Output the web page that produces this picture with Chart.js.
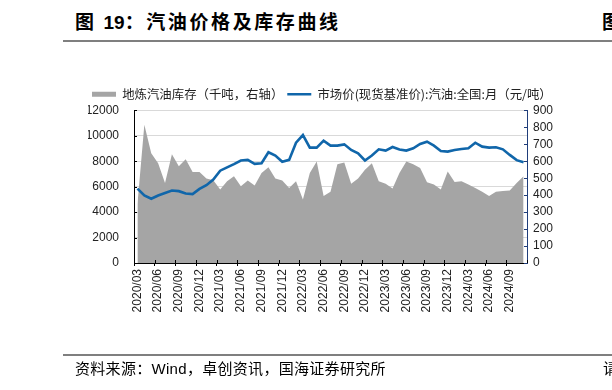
<!DOCTYPE html>
<html>
<head>
<meta charset="utf-8">
<script src="https://cdn.jsdelivr.net/npm/chart.js@4.4.1/dist/chart.umd.min.js"></script>
<style>
html, body { margin: 0; padding: 0; background: #fff; }
body { width: 612px; height: 390px; position: relative; overflow: hidden; font-family: "Noto Sans CJK SC", sans-serif; }
#chart { position: absolute; left: 0; top: 0; }
.title { position: absolute; left: 75px; top: 9px; font-size: 19px; font-weight: bold; letter-spacing: 2.6px; line-height: 24px; white-space: nowrap; color: #000; }
.title .num { font-family: "Liberation Sans", Arial, sans-serif; letter-spacing: 0; }
.rule { position: absolute; left: 63px; width: 549px; height: 2px; background: #7f7f7f; }
.src { position: absolute; left: 75px; top: 358px; font-size: 15px; line-height: 20px; letter-spacing: 0.3px; white-space: nowrap; color: #000; }
.src .lat { font-family: "Liberation Sans", Arial, sans-serif; }
</style>
</head>
<body>
<div class="title">图 <span class="num">19</span>：汽油价格及库存曲线</div>
<div class="title" style="left:602px">图</div>
<div class="rule" style="top:40px"></div>
<canvas id="chart" width="612" height="390"></canvas>
<div class="rule" style="top:354px"></div>
<div class="src">资料来源：<span class="lat">Wind</span>，卓创资讯，国海证券研究所</div>
<div class="src" style="left:603px">请</div>
<script>
// 月份（2020/03 - 2024/11）
const months = [
    '2020/03', '2020/04', '2020/05', '2020/06', '2020/07', '2020/08', '2020/09', '2020/10', '2020/11', '2020/12',
    '2021/01', '2021/02', '2021/03', '2021/04', '2021/05', '2021/06', '2021/07', '2021/08', '2021/09', '2021/10',
    '2021/11', '2021/12', '2022/01', '2022/02', '2022/03', '2022/04', '2022/05', '2022/06', '2022/07', '2022/08',
    '2022/09', '2022/10', '2022/11', '2022/12', '2023/01', '2023/02', '2023/03', '2023/04', '2023/05', '2023/06',
    '2023/07', '2023/08', '2023/09', '2023/10', '2023/11', '2023/12', '2024/01', '2024/02', '2024/03', '2024/04',
    '2024/05', '2024/06', '2024/07', '2024/08', '2024/09', '2024/10', '2024/11',
];

// 地炼汽油库存（千吨，右轴）
const inventory = [
    346, 816, 647, 589, 472, 642, 570, 612, 537, 537,
    498, 488, 434, 482, 511, 453, 486, 457, 531, 565,
    498, 486, 443, 482, 375, 531, 599, 395, 420, 583,
    593, 467, 498, 550, 589, 482, 467, 439, 531, 599,
    583, 560, 476, 463, 434, 540, 478, 482, 463, 443,
    420, 395, 420, 424, 428, 472, 511,
];

// 市场价(现货基准价):汽油:全国:月（元/吨）
const price = [
    5850, 5310, 5050, 5310, 5500, 5700, 5650, 5470, 5420, 5830,
    6120, 6560, 7260, 7520, 7780, 8060, 8110, 7800, 7850, 8710,
    8450, 7960, 8110, 9460, 10060, 9070, 9070, 9620, 9230, 9230,
    9330, 8890, 8630, 8060, 8450, 8940, 8840, 9120, 8930, 8840,
    9020, 9360, 9540, 9230, 8810, 8760, 8890, 8970, 9020, 9460,
    9150, 9070, 9100, 8940, 8500, 8090, 7930,
];

const invLabel = '地炼汽油库存（千吨，右轴）';
const priceLabel = '市场价(现货基准价):汽油:全国:月（元/吨）';

const grey = '#a5a5a5';
const blue = '#1066aa';
const navy = '#1f3d7a';
const numFont = { family: '"Liberation Sans", Arial, sans-serif', size: 12 };

// 轴内侧的小刻度
const innerTicks = {
    id: 'innerTicks',
    afterDatasetsDraw(chart) {
        const { ctx, chartArea: a, scales } = chart;
        ctx.save();
        ctx.lineWidth = 1;
        ctx.strokeStyle = '#000';
        ctx.beginPath();
        scales.y.ticks.forEach(t => {
            const py = Math.round(scales.y.getPixelForValue(t.value)) + 0.5;
            ctx.moveTo(a.left, py);
            ctx.lineTo(a.left + 3, py);
        });
        for (let i = 0; i <= months.length; i += 3) {
            const px = Math.round(scales.x.getPixelForValue(i - 0.5)) + 0.5;
            ctx.moveTo(px, a.bottom);
            ctx.lineTo(px, a.bottom - 3);
        }
        ctx.stroke();
        ctx.strokeStyle = navy;
        ctx.beginPath();
        scales.y1.ticks.forEach(t => {
            const py = Math.round(scales.y1.getPixelForValue(t.value)) + 0.5;
            ctx.moveTo(a.right, py);
            ctx.lineTo(a.right - 3, py);
        });
        ctx.stroke();
        ctx.restore();
    },
};

const chart = new Chart(document.getElementById('chart').getContext('2d'), {
    type: 'line',
    data: {
        labels: months,
        datasets: [{
            label: invLabel,
            data: inventory,
            yAxisID: 'y1',
            fill: 'origin',
            backgroundColor: grey,
            borderColor: grey,
            borderWidth: 0,
            pointRadius: 0,
            tension: 0,
            order: 1,
        }, {
            label: priceLabel,
            data: price,
            yAxisID: 'y',
            fill: false,
            borderColor: blue,
            borderWidth: 2.6,
            pointRadius: 0,
            tension: 0,
            order: 0,
        }],
    },
    options: {
        responsive: false,
        animation: false,
        layout: { padding: { top: 84, left: 88, right: 0, bottom: 0 } },
        plugins: {
            tooltip: { enabled: false },
            legend: {
                align: 'start',
                labels: {
                    usePointStyle: true,
                    pointStyleWidth: 24,
                    boxHeight: 5,
                    padding: 4,
                    color: '#222',
                    font: { family: '"Noto Sans CJK SC", sans-serif', size: 12.4 },
                    sort: (a, b) => a.datasetIndex - b.datasetIndex,
                    generateLabels: c => c.data.datasets.map((ds, i) => ({
                        text: ds.label,
                        datasetIndex: i,
                        pointStyle: i === 0 ? 'rect' : 'line',
                        fillStyle: i === 0 ? grey : blue,
                        strokeStyle: i === 0 ? grey : blue,
                        lineWidth: i === 0 ? 0 : 2.6,
                        fontColor: '#222',
                        hidden: false,
                    })),
                },
            },
        },
        scales: {
            x: {
                offset: true,
                grid: {
                    offset: true,
                    drawOnChartArea: false,
                    tickLength: 3,
                    color: c => (c.index % 3 === 0 ? '#000' : 'rgba(0,0,0,0)'),
                },
                border: { color: '#000' },
                ticks: {
                    autoSkip: false,
                    maxRotation: 90,
                    minRotation: 90,
                    padding: 3,
                    color: '#222',
                    font: numFont,
                    callback: (v, i) => (i % 3 === 0 ? months[i] : ''),
                },
                afterFit: s => { s.height = 127; },
            },
            y: {
                position: 'left',
                min: 0,
                max: 12000,
                ticks: { stepSize: 2000, autoSkip: false, padding: 15, color: '#222', font: numFont, callback: v => String(v) },
                grid: { color: '#d9d9d9', drawTicks: false },
                border: { color: '#000' },
                afterFit: s => { s.width = 46; },
            },
            y1: {
                position: 'right',
                min: 0,
                max: 900,
                ticks: { stepSize: 100, autoSkip: false, padding: 6, color: '#222', font: numFont, callback: v => String(v) },
                grid: { drawOnChartArea: false, drawTicks: false },
                border: { color: navy },
                afterFit: s => { s.width = 85; },
            },
        },
    },
    plugins: [innerTicks],
});
</script>
</body>
</html>
